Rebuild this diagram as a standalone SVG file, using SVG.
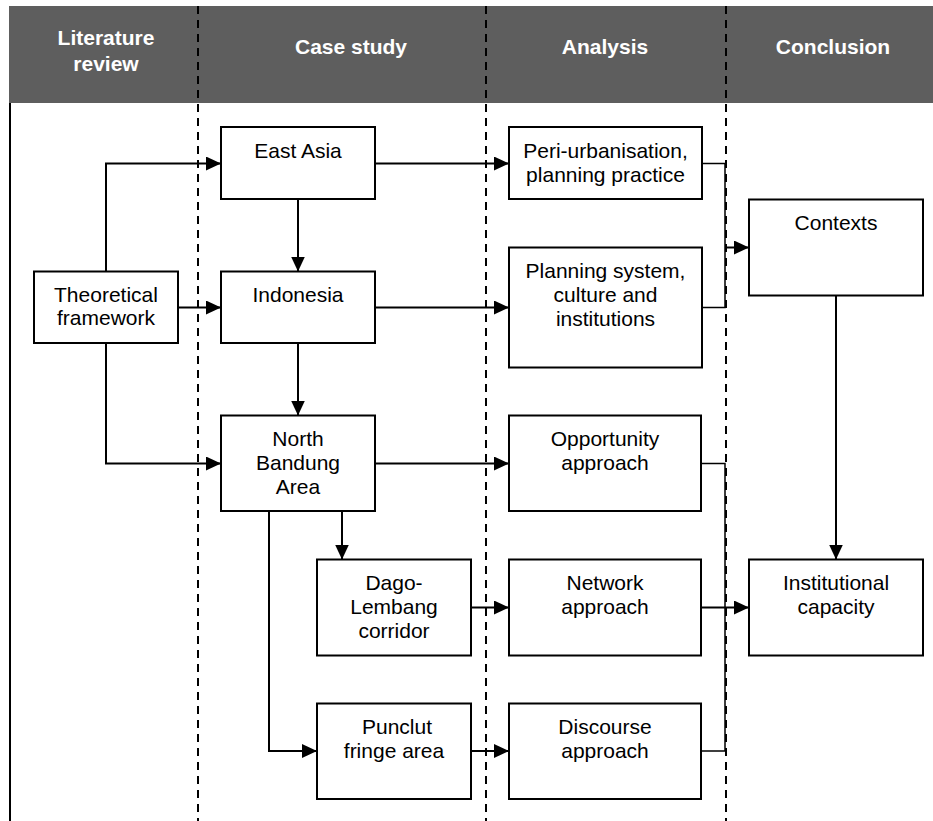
<svg xmlns="http://www.w3.org/2000/svg" width="933" height="821" viewBox="0 0 933 821">
  <style>
    .box { fill: #ffffff; stroke: #000000; stroke-width: 2; }
    .lbl { font-family: "Liberation Sans", Arial, sans-serif; font-size: 21px; fill: #000000; text-anchor: middle; }
    .hdr { font-family: "Liberation Sans", Arial, sans-serif; font-size: 21px; font-weight: bold; fill: #ffffff; text-anchor: middle; }
    .lane { stroke: #000000; stroke-width: 2; stroke-dasharray: 8 6; fill: none; }
    .edge { stroke: #000000; stroke-width: 2; fill: none; }
    .join { stroke: #000000; stroke-width: 1.5; fill: none; }
  </style>
  <defs>
    <marker id="arrow" viewBox="0 0 15 14" refX="15" refY="7" markerWidth="15" markerHeight="14" markerUnits="userSpaceOnUse" orient="auto">
      <path d="M0,0 L15,7 L0,14 Z" fill="#000000"/>
    </marker>
  </defs>

  <rect width="933" height="821" fill="#ffffff"/>

  <!-- header band -->
  <g id="header">
    <rect x="9" y="6" width="924" height="97" fill="#5e5e5e"/>
    <text class="hdr" x="106" y="44.5">Literature</text>
    <text class="hdr" x="106" y="70.5">review</text>
    <text class="hdr" x="351" y="53.5">Case study</text>
    <text class="hdr" x="605" y="53.5">Analysis</text>
    <text class="hdr" x="833" y="53.5">Conclusion</text>
  </g>

  <!-- frame and lane separators -->
  <g id="lanes">
    <line x1="10" y1="103" x2="10" y2="821" stroke="#000000" stroke-width="2"/>
    <line class="lane" x1="198" y1="6" x2="198" y2="821"/>
    <line class="lane" x1="486" y1="6" x2="486" y2="821"/>
    <line class="lane" x1="726" y1="6" x2="726" y2="821"/>
  </g>

  <!-- connectors -->
  <g id="connectors">
    <polyline class="edge" points="106,271 106,163.5 221,163.5" marker-end="url(#arrow)"/>
    <line class="edge" x1="178" y1="307.5" x2="221" y2="307.5" marker-end="url(#arrow)"/>
    <polyline class="edge" points="106,343 106,463.5 221,463.5" marker-end="url(#arrow)"/>
    <line class="edge" x1="298" y1="199" x2="298" y2="271.5" marker-end="url(#arrow)"/>
    <line class="edge" x1="298" y1="343" x2="298" y2="415.5" marker-end="url(#arrow)"/>
    <line class="edge" x1="375" y1="163.5" x2="509" y2="163.5" marker-end="url(#arrow)"/>
    <line class="edge" x1="375" y1="307.5" x2="509" y2="307.5" marker-end="url(#arrow)"/>
    <line class="edge" x1="375" y1="463.5" x2="509" y2="463.5" marker-end="url(#arrow)"/>
    <line class="edge" x1="342" y1="511" x2="342" y2="559.5" marker-end="url(#arrow)"/>
    <polyline class="edge" points="269,511 269,751 317,751" marker-end="url(#arrow)"/>
    <line class="edge" x1="471" y1="607.5" x2="509" y2="607.5" marker-end="url(#arrow)"/>
    <line class="edge" x1="471" y1="751" x2="509" y2="751" marker-end="url(#arrow)"/>
    <!-- context branch -->
    <polyline class="join" points="702,163.5 725,163.5 725,307.5 702,307.5"/>
    <line class="edge" x1="725" y1="247.5" x2="749" y2="247.5" marker-end="url(#arrow)"/>
    <!-- approaches branch -->
    <polyline class="join" points="701,463.5 725,463.5 725,751 701,751"/>
    <line class="edge" x1="701" y1="607.5" x2="749" y2="607.5" marker-end="url(#arrow)"/>
    <line class="edge" x1="836" y1="296" x2="836" y2="559.5" marker-end="url(#arrow)"/>
  </g>

  <g id="theoretical-framework">
    <rect class="box" x="34" y="271.5" width="144" height="71.5"/>
    <text class="lbl" x="106" y="301.5">Theoretical</text>
    <text class="lbl" x="106" y="325">framework</text>
  </g>

  <g id="east-asia">
    <rect class="box" x="221" y="127" width="154" height="72"/>
    <text class="lbl" x="298" y="158">East Asia</text>
  </g>

  <g id="indonesia">
    <rect class="box" x="221" y="271.5" width="154" height="71.5"/>
    <text class="lbl" x="298" y="301.5">Indonesia</text>
  </g>

  <g id="north-bandung">
    <rect class="box" x="221" y="415.5" width="154" height="95.5"/>
    <text class="lbl" x="298" y="446">North</text>
    <text class="lbl" x="298" y="470">Bandung</text>
    <text class="lbl" x="298" y="494">Area</text>
  </g>

  <g id="dago-lembang">
    <rect class="box" x="317" y="559.5" width="154" height="96"/>
    <text class="lbl" x="394" y="590">Dago-</text>
    <text class="lbl" x="394" y="614">Lembang</text>
    <text class="lbl" x="394" y="638">corridor</text>
  </g>

  <g id="punclut">
    <rect class="box" x="317" y="703.5" width="154" height="95.5"/>
    <text class="lbl" x="397" y="734">Punclut</text>
    <text class="lbl" x="394" y="758">fringe area</text>
  </g>

  <g id="peri-urbanisation">
    <rect class="box" x="509" y="127" width="193" height="72"/>
    <text class="lbl" x="605.5" y="158">Peri-urbanisation,</text>
    <text class="lbl" x="605.5" y="182">planning practice</text>
  </g>

  <g id="planning-system">
    <rect class="box" x="509" y="247.5" width="193" height="120"/>
    <text class="lbl" x="605.5" y="278">Planning system,</text>
    <text class="lbl" x="605.5" y="302">culture and</text>
    <text class="lbl" x="605.5" y="326">institutions</text>
  </g>

  <g id="opportunity-approach">
    <rect class="box" x="509" y="415.5" width="192" height="95.5"/>
    <text class="lbl" x="605" y="446">Opportunity</text>
    <text class="lbl" x="605" y="470">approach</text>
  </g>

  <g id="network-approach">
    <rect class="box" x="509" y="559.5" width="192" height="96"/>
    <text class="lbl" x="605" y="590">Network</text>
    <text class="lbl" x="605" y="614">approach</text>
  </g>

  <g id="discourse-approach">
    <rect class="box" x="509" y="703.5" width="192" height="95.5"/>
    <text class="lbl" x="605" y="734">Discourse</text>
    <text class="lbl" x="605" y="758">approach</text>
  </g>

  <g id="contexts">
    <rect class="box" x="749" y="199.5" width="174" height="96"/>
    <text class="lbl" x="836" y="230">Contexts</text>
  </g>

  <g id="institutional-capacity">
    <rect class="box" x="749" y="559.5" width="174" height="96"/>
    <text class="lbl" x="836" y="590">Institutional</text>
    <text class="lbl" x="836" y="614">capacity</text>
  </g>
</svg>
